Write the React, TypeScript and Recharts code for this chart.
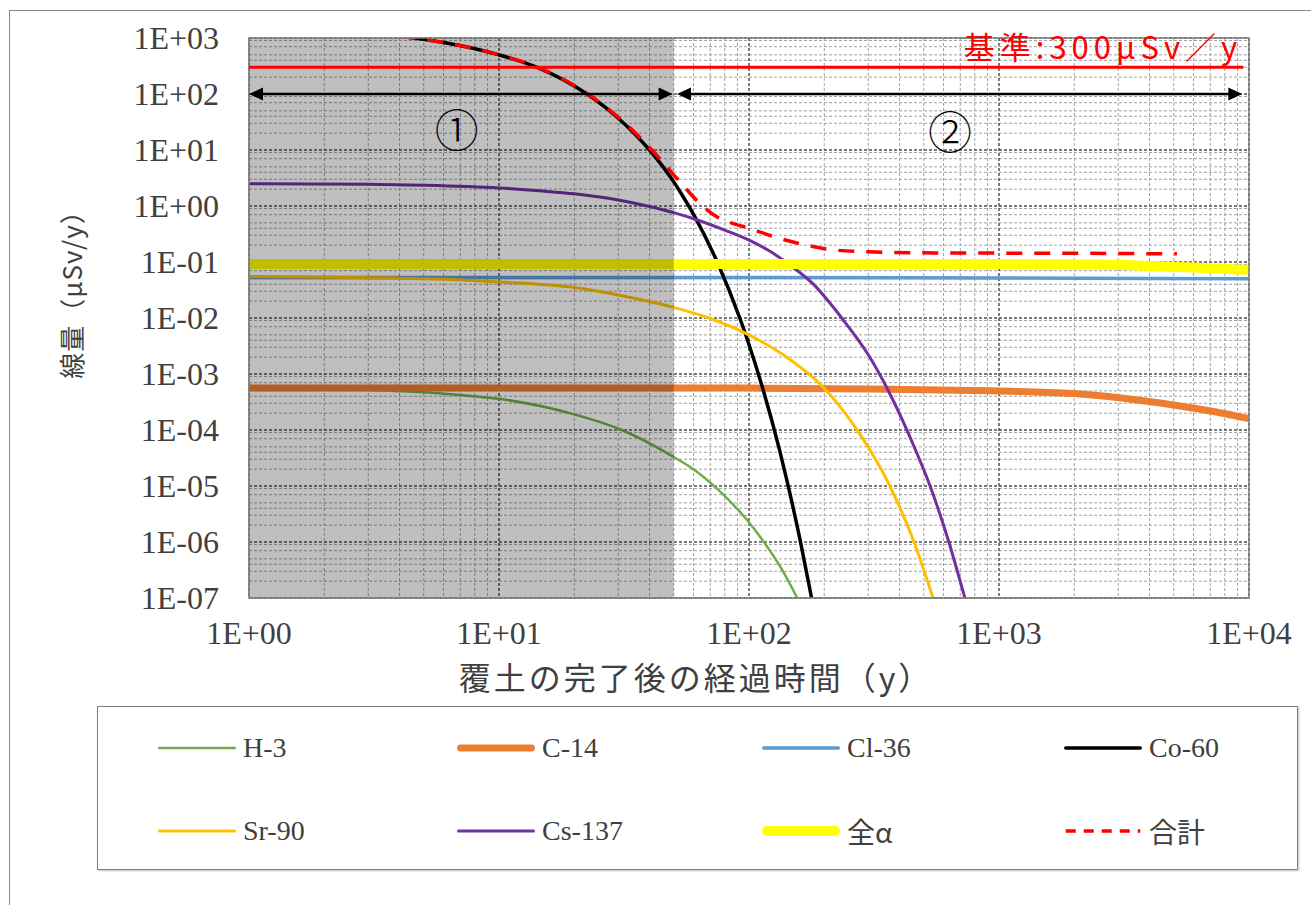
import React from "react";
import {
  LineChart,
  Line,
  XAxis,
  YAxis,
  CartesianGrid,
  ReferenceArea,
  ReferenceLine,
  ReferenceDot,
} from "recharts";

type Pt = { t: number; v: number };

const xTicks = [1, 10, 100, 1000, 10000];
const xTickLabels = ["1E+00", "1E+01", "1E+02", "1E+03", "1E+04"];
const yTicks = [1e-7, 1e-6, 1e-5, 1e-4, 1e-3, 1e-2, 1e-1, 1, 10, 100, 1000];
const yTickLabels = [
  "1E-07", "1E-06", "1E-05", "1E-04", "1E-03", "1E-02",
  "1E-01", "1E+00", "1E+01", "1E+02", "1E+03",
];

// dose (μSv/y) vs elapsed time (y)
const h3: Pt[] = [
  { t: 1, v: 5.5e-4 }, { t: 3, v: 5.2e-4 }, { t: 5, v: 4.7e-4 }, { t: 7, v: 4.2e-4 },
  { t: 10, v: 3.6e-4 }, { t: 20, v: 1.9e-4 }, { t: 31, v: 1.0e-4 }, { t: 50, v: 3.3e-5 },
  { t: 58, v: 2.2e-5 }, { t: 75, v: 8.7e-6 }, { t: 98, v: 2.5e-6 }, { t: 113, v: 1.1e-6 },
  { t: 135, v: 3.3e-7 }, { t: 156, v: 1e-7 },
];
const c14: Pt[] = [
  { t: 1, v: 5.6e-4 }, { t: 100, v: 5.6e-4 }, { t: 300, v: 5.4e-4 }, { t: 920, v: 5.0e-4 },
  { t: 1980, v: 4.5e-4 }, { t: 3140, v: 3.7e-4 }, { t: 5000, v: 2.8e-4 }, { t: 7400, v: 2.1e-4 },
  { t: 10000, v: 1.6e-4 },
];
const cl36: Pt[] = [
  { t: 1, v: 0.053 }, { t: 100, v: 0.053 }, { t: 1000, v: 0.052 }, { t: 10000, v: 0.05 },
];
const co60: Pt[] = [
  { t: 4, v: 1070 }, { t: 6, v: 830 }, { t: 10, v: 500 }, { t: 14.2, v: 300 },
  { t: 22.5, v: 100 }, { t: 30, v: 37 }, { t: 40, v: 10 }, { t: 50, v: 2.7 },
  { t: 53, v: 1.8 }, { t: 60, v: 0.71 }, { t: 75, v: 0.095 }, { t: 92, v: 0.0098 },
  { t: 98, v: 0.0044 }, { t: 113, v: 5.9e-4 }, { t: 133, v: 4.1e-5 }, { t: 143, v: 1.07e-5 },
  { t: 160, v: 1.1e-6 }, { t: 178, v: 1e-7 },
];
const sr90: Pt[] = [
  { t: 1, v: 0.055 }, { t: 5, v: 0.05 }, { t: 10, v: 0.044 }, { t: 20, v: 0.035 },
  { t: 31, v: 0.025 }, { t: 50, v: 0.0155 }, { t: 70, v: 0.0098 }, { t: 98, v: 0.0052 },
  { t: 137, v: 0.0022 }, { t: 198, v: 5.8e-4 }, { t: 260, v: 1.3e-4 }, { t: 366, v: 1e-5 },
  { t: 450, v: 1.2e-6 }, { t: 545, v: 1e-7 },
];
const cs137: Pt[] = [
  { t: 1, v: 2.5 }, { t: 3, v: 2.45 }, { t: 5, v: 2.35 }, { t: 10, v: 2.1 },
  { t: 15, v: 1.85 }, { t: 20, v: 1.65 }, { t: 30, v: 1.28 }, { t: 40, v: 0.98 },
  { t: 50, v: 0.76 }, { t: 63, v: 0.55 }, { t: 80, v: 0.37 }, { t: 100, v: 0.245 },
  { t: 120, v: 0.16 }, { t: 146, v: 0.088 }, { t: 180, v: 0.041 }, { t: 237, v: 0.0095 },
  { t: 300, v: 0.0022 }, { t: 355, v: 5.8e-4 }, { t: 450, v: 6e-5 }, { t: 530, v: 1e-5 },
  { t: 630, v: 1e-6 }, { t: 730, v: 1e-7 },
];
const alpha: Pt[] = [
  { t: 1, v: 0.092 }, { t: 1000, v: 0.092 }, { t: 2500, v: 0.09 }, { t: 4000, v: 0.085 },
  { t: 6000, v: 0.08 }, { t: 10000, v: 0.072 },
];
const total: Pt[] = [
  { t: 4, v: 1070 }, { t: 6, v: 830 }, { t: 10, v: 502 }, { t: 14.2, v: 302 },
  { t: 22.5, v: 102 }, { t: 30, v: 38.5 }, { t: 40, v: 11.1 }, { t: 44, v: 7.0 },
  { t: 50, v: 3.6 }, { t: 53, v: 2.7 }, { t: 63, v: 1.15 }, { t: 74, v: 0.65 },
  { t: 85, v: 0.5 }, { t: 100, v: 0.4 }, { t: 130, v: 0.27 }, { t: 170, v: 0.2 },
  { t: 216, v: 0.165 }, { t: 300, v: 0.152 }, { t: 500, v: 0.146 }, { t: 1000, v: 0.144 },
  { t: 2000, v: 0.143 }, { t: 5150, v: 0.14 },
];

const limitValue = 300;
const limitLabel = "基準:300μSv／y";
const phaseEnd = 50;

type SeriesDef = { name: string; data: Pt[]; color: string; width: number; dash?: string };

const seriesDefs: SeriesDef[] = [
  { name: "H-3", data: h3, color: "#70AD47", width: 2.5 },
  { name: "C-14", data: c14, color: "#ED7D31", width: 7 },
  { name: "Cl-36", data: cl36, color: "#5B9BD5", width: 3.5 },
  { name: "Co-60", data: co60, color: "#000000", width: 3.5 },
  { name: "Sr-90", data: sr90, color: "#FFC000", width: 3 },
  { name: "Cs-137", data: cs137, color: "#7030A0", width: 3 },
  { name: "全α", data: alpha, color: "#FFFF00", width: 10 },
  { name: "合計", data: total, color: "#FF0000", width: 3.5, dash: "16 12" },
];

const minorY: number[] = [];
yTicks.slice(0, -1).forEach((d) => {
  for (let k = 2; k <= 9; k++) minorY.push(k * d);
});
const minorX: number[] = [];
xTicks.slice(0, -1).forEach((d) => {
  for (let k = 2; k <= 9; k++) minorX.push(k * d);
});

const serif = "'Liberation Serif', 'Times New Roman', serif";
const cjk = "'Noto Sans CJK JP', 'Noto Sans', sans-serif";
const textGray = "#404040";

function DoubleArrow(props: any) {
  const { x1, y1, x2, y2 } = props;
  const L = 14;
  const W = 6.5;
  return (
    <g>
      <line x1={x1 + L - 2} y1={y1} x2={x2 - L + 2} y2={y2} stroke="#000" strokeWidth={2.5} />
      <polygon points={`${x1},${y1} ${x1 + L},${y1 - W} ${x1 + L},${y1 + W}`} fill="#000" />
      <polygon points={`${x2},${y2} ${x2 - L},${y2 - W} ${x2 - L},${y2 + W}`} fill="#000" />
    </g>
  );
}

function circledLabel(text: string) {
  return (p: any) => {
    const vb = p.viewBox || {};
    return (
      <text
        x={vb.x}
        y={vb.y}
        textAnchor="middle"
        dominantBaseline="central"
        fontFamily={cjk}
        fontWeight={300}
        fontSize={44}
        fill="#000"
      >
        {text}
      </text>
    );
  };
}

function LegendSwatch({ s }: { s: SeriesDef }) {
  return (
    <svg width={80} height={14} style={{ display: "block" }}>
      <line
        x1={s.width / 2 + 1}
        y1={7}
        x2={79 - s.width / 2}
        y2={7}
        stroke={s.color}
        strokeWidth={s.width === 10 ? 10 : Math.min(s.width, 7)}
        strokeLinecap={s.dash ? "butt" : "round"}
        strokeDasharray={s.dash ? "10 8" : undefined}
      />
    </svg>
  );
}

export default function App() {
  return (
    <div
      style={{
        position: "absolute",
        left: 9,
        top: 10,
        width: 1320,
        height: 920,
        border: "1px solid #8a8a8a",
        background: "#fff",
      }}
    >
      <LineChart width={1300} height={880} margin={{ top: 27, right: 61, bottom: 233, left: 0 }}>
        <CartesianGrid
          horizontalValues={minorY}
          verticalValues={minorX}
          stroke="#a2a2a2"
          strokeDasharray="3 2"
          strokeWidth={1}
        />
        <CartesianGrid
          horizontalValues={yTicks}
          verticalValues={xTicks}
          stroke="#505050"
          strokeDasharray="3 2"
          strokeWidth={1.5}
        />
        <XAxis
          dataKey="t"
          type="number"
          scale="log"
          domain={[1, 10000]}
          allowDataOverflow
          ticks={xTicks}
          tickFormatter={(v: number) => xTickLabels[xTicks.indexOf(v)] ?? ""}
          tick={{ fontFamily: serif, fontSize: 32, fill: textGray }}
          tickLine={false}
          tickSize={0}
          tickMargin={23}
          axisLine={{ stroke: "#7f7f7f" }}
          height={60}
          label={(p: any) => {
            const vb = p.viewBox || {};
            return (
              <text
                x={vb.x + vb.width / 2 - 53}
                y={vb.y + 78}
                textAnchor="middle"
                dominantBaseline="central"
                fontFamily={cjk}
                fontSize={32}
                letterSpacing={3}
                fill={textGray}
              >
                覆土の完了後の経過時間（y）
              </text>
            );
          }}
        />
        <YAxis
          type="number"
          scale="log"
          domain={[1e-7, 1000]}
          allowDataOverflow
          ticks={yTicks}
          tickFormatter={(v: number) => {
            const i = yTicks.findIndex((d) => Math.abs(Math.log10(d) - Math.log10(v)) < 1e-6);
            return i >= 0 ? yTickLabels[i] : "";
          }}
          tick={{ fontFamily: serif, fontSize: 32, fill: textGray }}
          tickLine={false}
          tickSize={0}
          tickMargin={30}
          axisLine={{ stroke: "#7f7f7f" }}
          width={239}
          label={(p: any) => {
            const vb = p.viewBox || {};
            const cx = vb.x + 60;
            const cy = vb.y + vb.height / 2 - 30;
            return (
              <text
                x={cx}
                y={cy}
                transform={`rotate(-90 ${cx} ${cy})`}
                textAnchor="middle"
                dominantBaseline="central"
                fontFamily={cjk}
                fontSize={26}
                letterSpacing={1}
                fill={textGray}
              >
                線量（μSv/y）
              </text>
            );
          }}
        />
        {seriesDefs.slice(0, 7).map((s) => (
          <Line
            key={s.name}
            data={s.data}
            dataKey="v"
            name={s.name}
            type="monotone"
            stroke={s.color}
            strokeWidth={s.width}
            dot={false}
            activeDot={false}
            isAnimationActive={false}
          />
        ))}
        <ReferenceArea
          x1={1}
          x2={phaseEnd}
          y1={1e-7}
          y2={1000}
          fill="#000"
          fillOpacity={0.25}
          stroke="none"
          zIndex={450}
        />
        <Line
          data={total}
          dataKey="v"
          name="合計"
          type="monotone"
          stroke="#FF0000"
          strokeWidth={3.5}
          strokeDasharray="16 12"
          dot={false}
          activeDot={false}
          isAnimationActive={false}
          zIndex={500}
        />
        <ReferenceArea
          x1={1}
          x2={10000}
          y1={1e-7}
          y2={1000}
          fill="none"
          stroke="#7f7f7f"
          strokeWidth={1.5}
          zIndex={550}
        />
        <ReferenceLine
          segment={[{ x: 1, y: limitValue }, { x: 9500, y: limitValue }]}
          stroke="#FF0000"
          strokeWidth={3}
          zIndex={600}
        />
        <ReferenceLine
          segment={[{ x: 1, y: 100 }, { x: 49.5, y: 100 }]}
          shape={DoubleArrow}
          zIndex={600}
        />
        <ReferenceLine
          segment={[{ x: 51.5, y: 100 }, { x: 9400, y: 100 }]}
          shape={DoubleArrow}
          zIndex={600}
        />
        <ReferenceDot
          x={9400}
          y={limitValue}
          r={0}
          fill="none"
          stroke="none"
          label={(p: any) => {
            const vb = p.viewBox || {};
            return (
              <text
                x={vb.x}
                y={vb.y - 8}
                textAnchor="end"
                fontFamily={cjk}
                fontSize={31}
                letterSpacing={5}
                fill="#FF0000"
              >
                {limitLabel}
              </text>
            );
          }}
        />
        <ReferenceDot x={6.77} y={24.7} r={0} fill="none" stroke="none" label={circledLabel("①")} />
        <ReferenceDot x={637} y={22.7} r={0} fill="none" stroke="none" label={circledLabel("②")} />
      </LineChart>

      <div
        style={{
          position: "absolute",
          left: 87,
          top: 695,
          width: 1199,
          height: 162,
          border: "1.5px solid #7f7f7f",
          boxShadow: "1px 1px 2px rgba(0,0,0,0.25)",
        }}
      >
        {seriesDefs.map((s, i) => {
          const col = i % 4;
          const row = Math.floor(i / 4);
          return (
            <div
              key={s.name}
              style={{
                position: "absolute",
                left: [59, 358, 663, 965][col],
                top: row === 0 ? 41 : 124,
                transform: "translateY(-50%)",
                display: "flex",
                alignItems: "center",
                gap: 6,
                fontFamily: /[^\x00-\x7f]/.test(s.name) ? cjk : serif,
                fontSize: 28,
                color: textGray,
                whiteSpace: "nowrap",
              }}
            >
              <LegendSwatch s={s} />
              <span>{s.name}</span>
            </div>
          );
        })}
      </div>
    </div>
  );
}
